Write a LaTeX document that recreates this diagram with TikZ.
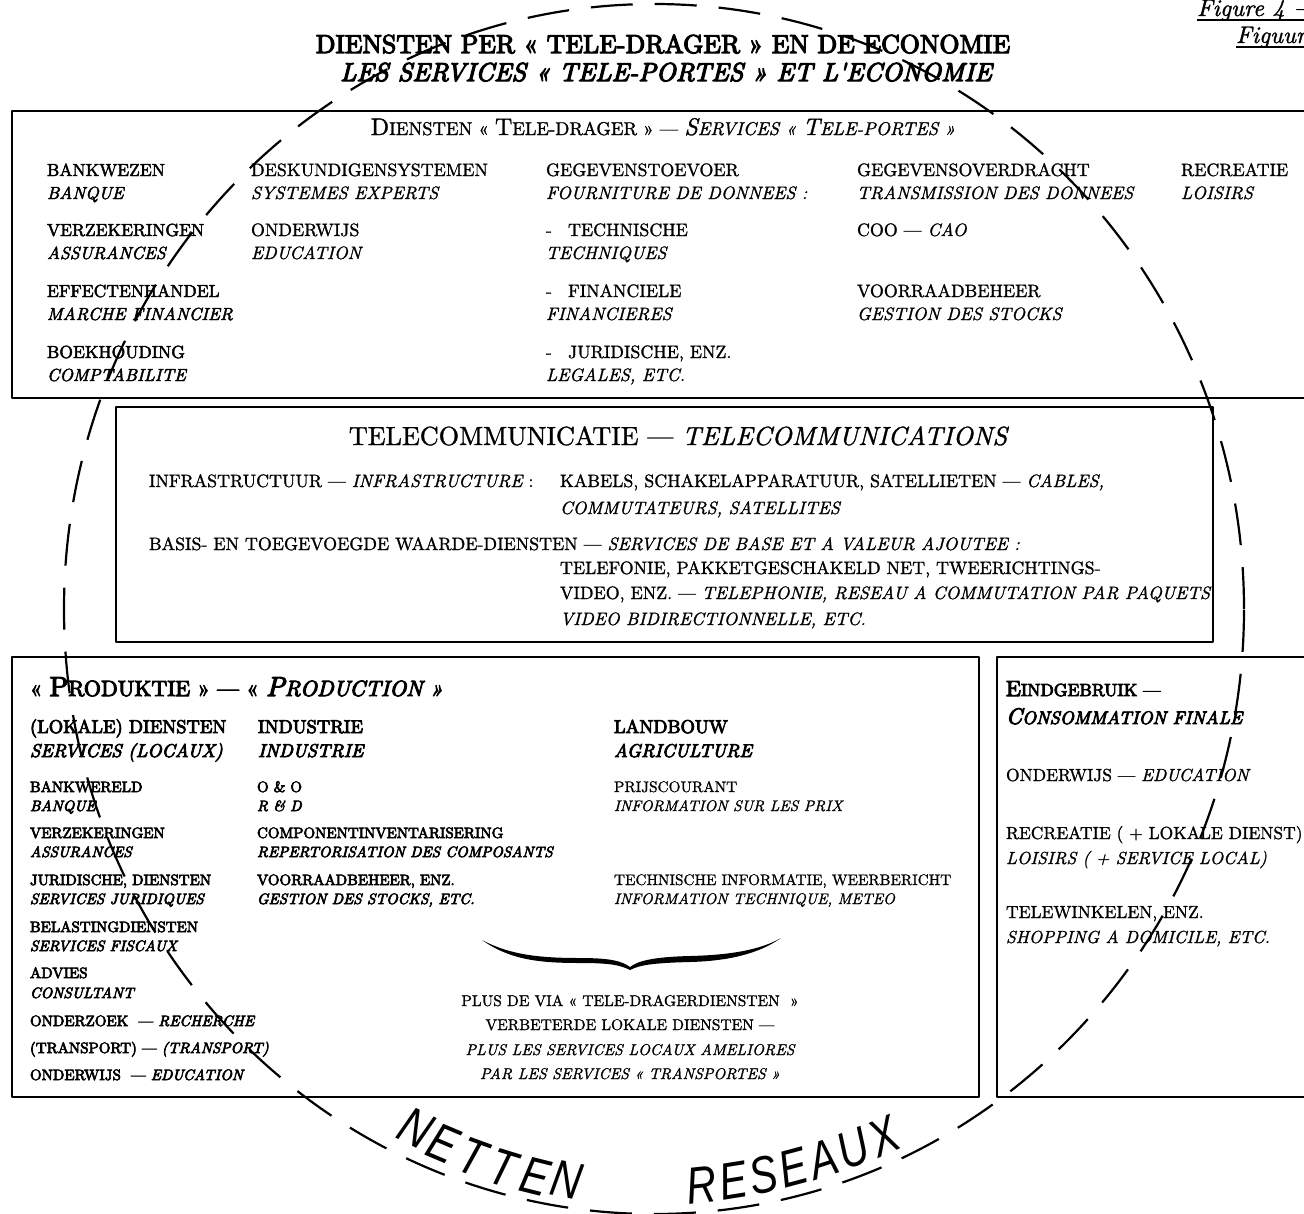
\documentclass[tikz,border=0pt]{standalone}
\usepackage{fontspec}
\usepackage{graphicx}
% Latin Modern cuts, slightly emboldened to give the heavier print look
\newfontface\regup{lmroman10-regular.otf}[FakeBold=1.2]
\newfontface\regit{lmroman10-italic.otf}[FakeBold=1.2]
\newfontface\semup{lmroman10-regular.otf}[FakeBold=2.6]
\newfontface\semit{lmroman10-italic.otf}[FakeBold=2.6]
\newfontface\hvyup{lmroman10-regular.otf}[FakeBold=4.5]
\newfontface\hvyit{lmroman10-italic.otf}[FakeBold=4.5]
\newfontfamily\netfont{Liberation Sans}
\newcommand{\ti}[1]{{\regit #1}}
% hand-made small capitals: large initial, smaller rest
\newcommand{\lgsize}{22}
\newcommand{\smsize}{17}
\newcommand{\Lg}[1]{{\fontsize{\lgsize}{\lgsize}\selectfont #1}}
\newcommand{\Sm}[1]{{\fontsize{\smsize}{\smsize}\selectfont #1}}

\begin{document}
\begin{tikzpicture}[x=1pt,y=1pt,line join=round]
\tikzset{
  frame/.style={draw=black, line width=1.8pt},
  lbl/.style={anchor=base west, inner sep=0pt, outer sep=0pt},
  cbl/.style={anchor=base, inner sep=0pt, outer sep=0pt},
  rmA/.style={lbl, font={\fontsize{17.9}{21}\selectfont\regup}},
  itA/.style={lbl, font={\fontsize{17.9}{21}\selectfont\regit}},
  sbA/.style={lbl, font={\fontsize{17.5}{21}\selectfont\semup}},
  sbiA/.style={lbl, font={\fontsize{17.5}{21}\selectfont\semit}},
  rmT/.style={lbl, font={\fontsize{17.9}{21}\selectfont\regup}},
  itT/.style={lbl, font={\fontsize{17.9}{21}\selectfont\regit}},
  bdB/.style={lbl, font={\fontsize{18.5}{22}\selectfont\hvyup}},
  bdiB/.style={lbl, font={\fontsize{18.5}{22}\selectfont\hvyit}},
  bdC/.style={lbl, font={\fontsize{15}{18}\selectfont\hvyup}},
  bdiC/.style={lbl, font={\fontsize{15}{18}\selectfont\hvyit}},
  rmC/.style={lbl, font={\fontsize{15.3}{18}\selectfont\regup}},
  itC/.style={lbl, font={\fontsize{15.3}{18}\selectfont\regit}},
  noteC/.style={cbl, font={\fontsize{15.5}{18}\selectfont\regup}},
  noteI/.style={cbl, font={\fontsize{15.5}{18}\selectfont\regit}},
  rmD/.style={lbl, font={\fontsize{17.5}{20}\selectfont\regup}},
  itD/.style={lbl, font={\fontsize{17.5}{20}\selectfont\regit}},
  netl/.style={inner sep=0pt, outer sep=0pt, anchor=center,
    font={\fontsize{52}{52}\selectfont\netfont\itshape}},
  ring/.style={line width=2.2pt, dash pattern=on 42pt off 22pt}
}
\useasboundingbox (0,0) rectangle (1304,-1213);
\fill[white] (0,0) rectangle (1304,-1213);

% ---- figure number, top right
\node[lbl, font={\fontsize{24}{28}\selectfont\regit}] (fig1) at (1197,-16) {Figure 4 —};
\node[lbl, font={\fontsize{24}{28}\selectfont\regit}] (fig2) at (1236,-43) {Figuur 4};
\draw[line width=1.2pt] ([yshift=-4pt]fig1.base west) -- ([yshift=-4pt,xshift=20pt]fig1.base east);
\draw[line width=1.2pt] ([yshift=-4pt]fig2.base west) -- ([yshift=-4pt,xshift=20pt]fig2.base east);

% ---- title
\node[cbl, font={\fontsize{25.9}{30}\selectfont\hvyup}] (title1) at (663,-53)
  {DIENSTEN PER « TELE-DRAGER » EN DE ECONOMIE};
\node[cbl, font={\fontsize{25.9}{30}\selectfont\hvyit}] (title2) at (666,-81)
  {LES SERVICES « TELE-PORTES » ET L'ECONOMIE};

% ---- frames
\draw[frame] (12,-111) rectangle (1314,-398);
\draw[frame] (116,-407) rectangle (1213,-642);
\draw[frame] (12,-657) rectangle (979,-1097);
\draw[frame] (997,-657) rectangle (1314,-1097);

% ---- carrier services
\node[cbl, font={\fontsize{18.5}{22}\selectfont\regup}] (tophead) at (663,-135)
  {\renewcommand{\lgsize}{24}\renewcommand{\smsize}{18.5}%
   \Lg{D}\Sm{IENSTEN « }\Lg{T}\Sm{ELE-DRAGER » — }{\regit\Lg{S}\Sm{ERVICES « }\Lg{T}\Sm{ELE-PORTES »}}};

\node[sbA]  (c1a) at (47,-176) {BANKWEZEN};
\node[sbiA] (c1b) at (47,-199) {BANQUE};
\node[sbA]  (c1c) at (47,-236) {VERZEKERINGEN};
\node[sbiA] (c1d) at (47,-259) {ASSURANCES};
\node[sbA]  (c1e) at (47,-297) {EFFECTENHANDEL};
\node[sbiA] (c1f) at (47,-320) {MARCHE FINANCIER};
\node[sbA]  (c1g) at (47,-358) {BOEKHOUDING};
\node[sbiA] (c1h) at (47,-381) {COMPTABILITE};

\node[rmA] (c2a) at (251,-176) {DESKUNDIGENSYSTEMEN};
\node[itA] (c2b) at (251,-199) {SYSTEMES EXPERTS};
\node[rmA] (c2c) at (251,-236) {ONDERWIJS};
\node[itA] (c2d) at (251,-259) {EDUCATION};

\node[rmA] (c3a) at (546,-176) {GEGEVENSTOEVOER};
\node[itA] (c3b) at (546,-199) {FOURNITURE DE DONNEES :};
\node[rmA] (c3c) at (546,-236) {-\hspace{0.9em}TECHNISCHE};
\node[itA] (c3d) at (546,-259) {TECHNIQUES};
\node[rmA] (c3e) at (546,-297) {-\hspace{0.9em}FINANCIELE};
\node[itA] (c3f) at (546,-320) {FINANCIERES};
\node[rmA] (c3g) at (546,-358) {-\hspace{0.9em}JURIDISCHE, ENZ.};
\node[itA] (c3h) at (546,-381) {LEGALES, ETC.};

\node[rmA] (c4a) at (857,-176) {GEGEVENSOVERDRACHT};
\node[itA] (c4b) at (857,-199) {TRANSMISSION DES DONNEES};
\node[rmA] (c4c) at (857,-236) {COO — \ti{CAO}};
\node[rmA] (c4e) at (857,-297) {VOORRAADBEHEER};
\node[itA] (c4f) at (857,-320) {GESTION DES STOCKS};

\node[rmA] (c5a) at (1181,-176) {RECREATIE};
\node[itA] (c5b) at (1181,-199) {LOISIRS};

% ---- telecommunications
\node[cbl, font={\fontsize{26.2}{30}\selectfont\regup}] (telhead) at (678,-445)
  {TELECOMMUNICATIE — \ti{TELECOMMUNICATIONS}};
\node[rmT] (t1) at (149,-487) {INFRASTRUCTUUR — \ti{INFRASTRUCTURE} :};
\node[rmT] (t2) at (560,-487) {KABELS, SCHAKELAPPARATUUR, SATELLIETEN — \ti{CABLES,}};
\node[itT] (t3) at (560,-514) {COMMUTATEURS, SATELLITES};
\node[rmT] (t4) at (149,-550) {BASIS- EN TOEGEVOEGDE WAARDE-DIENSTEN — \ti{SERVICES DE BASE ET A VALEUR AJOUTEE :}};
\node[rmT] (t5) at (560,-574) {TELEFONIE, PAKKETGESCHAKELD NET, TWEERICHTINGS-};
\node[rmT] (t6) at (560,-599) {VIDEO, ENZ. — \ti{TELEPHONIE, RESEAU A COMMUTATION PAR PAQUETS}};
\node[itT] (t7) at (560,-625) {VIDEO BIDIRECTIONNELLE, ETC.};

% ---- production
\node[lbl, font={\fontsize{22}{26}\selectfont\hvyup}] (prodhead) at (30,-696)
  {\renewcommand{\lgsize}{27.5}\renewcommand{\smsize}{22}%
   \Sm{« }\Lg{P}\Sm{RODUKTIE » — « }{\hvyit\Lg{P}\Sm{RODUCTION »}}};

\node[bdB]  (p1a) at (30,-733) {(LOKALE) DIENSTEN};
\node[bdiB] (p1b) at (30,-757) {SERVICES (LOCAUX)};
\node[bdB]  (p2a) at (258,-733) {INDUSTRIE};
\node[bdiB] (p2b) at (258,-757) {INDUSTRIE};
\node[bdB]  (p3a) at (614,-733) {LANDBOUW};
\node[bdiB] (p3b) at (614,-757) {AGRICULTURE};

\node[bdC]  (d1) at (30,-792) {BANKWERELD};
\node[bdiC] (d2) at (30,-811) {BANQUE};
\node[bdC]  (d3) at (30,-838) {VERZEKERINGEN};
\node[bdiC] (d4) at (30,-857) {ASSURANCES};
\node[bdC]  (d5) at (30,-885) {JURIDISCHE, DIENSTEN};
\node[bdiC] (d6) at (30,-904) {SERVICES JURIDIQUES};
\node[bdC]  (d7) at (30,-932) {BELASTINGDIENSTEN};
\node[bdiC] (d8) at (30,-951) {SERVICES FISCAUX};
\node[bdC]  (d9) at (30,-978) {ADVIES};
\node[bdiC] (d10) at (30,-998) {CONSULTANT};
\node[bdC]  (d11) at (30,-1026) {ONDERZOEK\ \ — {\hvyit RECHERCHE}};
\node[bdC]  (d12) at (30,-1053) {(TRANSPORT) — {\hvyit (TRANSPORT)}};
\node[bdC]  (d13) at (30,-1080) {ONDERWIJS\ \ — {\hvyit EDUCATION}};

\node[bdC]  (i1) at (257,-792) {O \& O};
\node[bdiC] (i2) at (257,-811) {R \& D};
\node[bdC]  (i3) at (257,-838) {COMPONENTINVENTARISERING};
\node[bdiC] (i4) at (257,-857) {REPERTORISATION DES COMPOSANTS};
\node[bdC]  (i5) at (257,-885) {VOORRAADBEHEER, ENZ.};
\node[bdiC] (i6) at (257,-904) {GESTION DES STOCKS, ETC.};

\node[rmC] (l1) at (614,-792) {PRIJSCOURANT};
\node[itC] (l2) at (614,-811) {INFORMATION SUR LES PRIX};
\node[rmC] (l3) at (614,-885) {TECHNISCHE INFORMATIE, WEERBERICHT};
\node[itC] (l4) at (614,-904) {INFORMATION TECHNIQUE, METEO};

% horizontal brace
\fill (482,-940) .. controls (510,-955) and (540,-958) .. (580,-958)
  .. controls (610,-958) and (622,-961) .. (630,-967)
  .. controls (638,-961) and (652,-957) .. (690,-956)
  .. controls (730,-955) and (760,-950) .. (781,-938)
  .. controls (760,-953) and (730,-961) .. (690,-962)
  .. controls (652,-963) and (640,-965) .. (630,-970)
  .. controls (620,-965) and (610,-963) .. (580,-963)
  .. controls (540,-963) and (510,-960) .. (482,-940) -- cycle;

\node[noteC] (n1) at (630,-1006) {PLUS DE VIA « TELE-DRAGERDIENSTEN\ \ »};
\node[noteC] (n2) at (630,-1030) {VERBETERDE LOKALE DIENSTEN —};
\node[noteI] (n3) at (630,-1055) {PLUS LES SERVICES LOCAUX AMELIORES};
\node[noteI] (n4) at (630,-1079) {PAR LES SERVICES « TRANSPORTES »};

% ---- final consumption
\node[lbl, font={\fontsize{17.5}{21}\selectfont\hvyup}] (e1) at (1006,-696)
  {\renewcommand{\lgsize}{22}\renewcommand{\smsize}{17.5}\Lg{E}\Sm{INDGEBRUIK —}};
\node[lbl, font={\fontsize{17.5}{21}\selectfont\hvyit}] (e2) at (1006,-724)
  {\renewcommand{\lgsize}{22.5}\renewcommand{\smsize}{18.2}\Lg{C}\Sm{ONSOMMATION FINALE}};
\node[rmD] (e3) at (1006,-781) {ONDERWIJS — \ti{EDUCATION}};
\node[rmD] (e4) at (1006,-839) {RECREATIE ( + LOKALE DIENST)};
\node[itD] (e5) at (1006,-864) {LOISIRS ( + SERVICE LOCAL)};
\node[rmD] (e6) at (1006,-918) {TELEWINKELEN, ENZ.};
\node[itD] (e7) at (1006,-943) {SHOPPING A DOMICILE, ETC.};

% ---- networks ring
\draw[ring] (654,-609) ellipse [x radius=590, y radius=605];

\foreach \ch/\px/\py/\rt [count=\k] in
  {N/416/1128/-26, E/443/1143/-23, T/473/1157/-20, T/503/1168/-17, E/535/1176/-14, N/567/1180/-11}
  \node[netl, rotate=\rt] (netten\k) at (\px,-\py) {\scalebox{0.8}[1]{\ch}};
\foreach \ch/\px/\py/\rt [count=\k] in
  {R/702/1185/6, E/733/1181/9, S/763/1175/12, E/793/1168/15, A/823/1159/18, U/853/1149/21, X/884/1137/24}
  \node[netl, rotate=\rt] (reseaux\k) at (\px,-\py) {\scalebox{0.8}[1]{\ch}};
\end{tikzpicture}
\end{document}
